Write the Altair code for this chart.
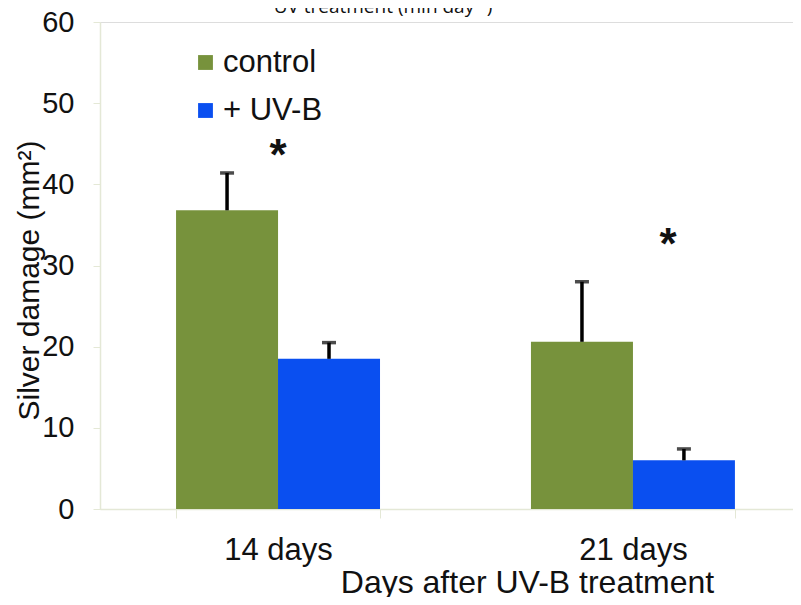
import altair as alt
import pandas as pd

days = ["14 days", "21 days"]
treatments = ["control", "+ UV-B"]
control_mean = [36.8, 20.6]
control_err = [4.6, 7.4]
uvb_mean = [18.5, 6.0]
uvb_err = [2.0, 1.4]
star_days = ["14 days", "21 days"]
star_y = [44.6, 33.6]
star_offset = [102, 137]
title_text = "UV treatment (min day\u207b\u00b9)"

rows = []
for i, d in enumerate(days):
    rows.append({"day": d, "treatment": "control", "mean": control_mean[i], "top": control_mean[i] + control_err[i]})
    rows.append({"day": d, "treatment": "+ UV-B", "mean": uvb_mean[i], "top": uvb_mean[i] + uvb_err[i]})
df = pd.DataFrame(rows)
stars = pd.DataFrame({"day": star_days, "y": star_y, "off": star_offset})

FONT = "Liberation Sans"
W, H = 693, 487

xscale = alt.Scale(domain=days, paddingInner=0.4254, paddingOuter=0.189, align=0.567)
yscale = alt.Scale(domain=[0, 60])
color = alt.Scale(domain=treatments, range=["#77923c", "#0a4ff0"])

x_enc = alt.X("day:N", scale=xscale, sort=days,
              axis=alt.Axis(title="Days after UV-B treatment", labelAngle=0,
                            labelFontSize=31, labelFont=FONT, labelColor="#111111",
                            labelPadding=17, tickBand="extent", tickSize=9,
                            tickColor="#e4e8d6", domainColor="#e4e8d6", domainWidth=1.5,
                            titleFont=FONT, titleFontSize=32, titleFontWeight="normal",
                            titleColor="#111111", titleX=427, titleY=83,
                            titleAlign="center", titleBaseline="alphabetic", grid=False))
y_enc = alt.Y("mean:Q", scale=yscale,
              axis=alt.Axis(title="Silver damage (mm\u00b2)", values=[0, 10, 20, 30, 40, 50, 60],
                            labelFontSize=29, labelFont=FONT, labelColor="#111111",
                            labelPadding=19, tickSize=7, tickColor="#e4e8d6",
                            domainColor="#e4e8d6", domainWidth=1.5, grid=False,
                            titleFont=FONT, titleFontSize=30, titleFontWeight="normal",
                            titleColor="#111111", titleX=-71, titleY=258,
                            titleAlign="center", titleBaseline="middle", titleAngle=270))

bars = alt.Chart(df).mark_bar(size=102).encode(
    x=x_enc,
    xOffset=alt.XOffset("treatment:N", sort=treatments, scale=alt.Scale(domain=treatments, paddingInner=0, paddingOuter=0)),
    y=y_enc,
    color=alt.Color("treatment:N", scale=color, sort=treatments,
                    legend=alt.Legend(title=None, orient="none", legendX=90, legendY=25,
                                      symbolType="square", symbolSize=220, symbolStrokeWidth=0,
                                      labelFontSize=31, labelFont=FONT, labelColor="#111111",
                                      rowPadding=16, labelOffset=2, symbolOffset=0)),
)

err_rule = alt.Chart(df).mark_rule(color="black", strokeWidth=3.5).encode(
    x=alt.X("day:N", scale=xscale, sort=days),
    xOffset=alt.XOffset("treatment:N", sort=treatments),
    y=alt.Y("mean:Q", scale=yscale),
    y2="top:Q",
)
err_cap = alt.Chart(df).mark_tick(color="black", thickness=3.5, size=14).encode(
    x=alt.X("day:N", scale=xscale, sort=days),
    xOffset=alt.XOffset("treatment:N", sort=treatments),
    y=alt.Y("top:Q", scale=yscale),
)

star_marks = alt.Chart(stars).mark_text(text="*", fontSize=44, font=FONT, fontWeight="bold",
                                        color="#111111", baseline="middle", dy=10).encode(
    x=alt.X("day:N", scale=xscale, sort=days),
    xOffset=alt.XOffset("off:Q", scale=None),
    y=alt.Y("y:Q", scale=yscale),
)

title_mark = alt.Chart(pd.DataFrame({"t": [title_text]})).mark_text(
    font="Open Sans", fontSize=19, color="#111111", align="center", baseline="alphabetic"
).encode(text="t:N", x=alt.value(283), y=alt.value(-9))

chart = alt.layer(bars, err_rule, err_cap, star_marks, title_mark).properties(
    width=W, height=H,
    autosize=alt.AutoSizeParams(type="none"),
    padding={"left": 92, "top": 14, "right": 0, "bottom": 88},
).configure_view(stroke=None).configure(background="white")

chart.save("out.html", embed_options={"renderer": "svg", "actions": False})
